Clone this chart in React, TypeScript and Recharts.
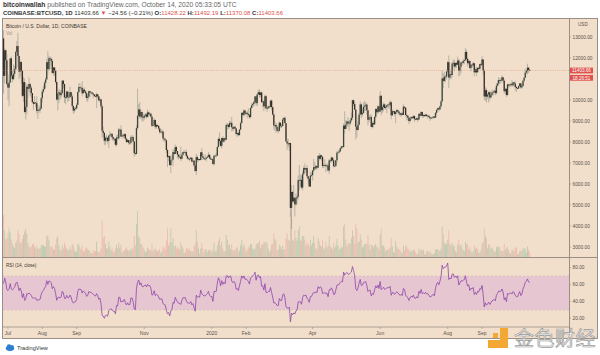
import React from 'react';
import { ComposedChart, BarChart, Bar, Line, XAxis, YAxis, ReferenceLine, ReferenceArea, Cell } from 'recharts';

// ---------- data (daily, Coinbase BTC/USD, from 2019-06-27) ----------
const startDate = '2019-06-27';
// closes before the first visible candle (used as RSI history)
const warmupCloses = [8550, 8730, 8110, 7680, 7790, 7800, 8000, 7930, 7630, 8000, 7920, 8170, 8230, 8690, 8850, 8980, 9330, 9080, 9280, 9530, 10210, 10670, 10860, 11020, 11750, 12930];

const closes = [
  11150, 12370, 11890, 10760,
  10590, 10830, 11980, 11160, 10990, 11250, 11470, 12290, 12570, 12100, 11350, 11810, 11380, 10200, 10850, 9430, 9670, 10630, 10530, 10760, 10590, 10330, 9900, 9820, 9880, 9850, 9480, 9530, 9520, 9590, 10090,
  10400, 10520, 10820, 10980, 11800, 11470, 11990, 11960, 11860, 11290, 11550, 11390, 10860, 10020, 10310, 10360, 10230, 10330, 10920, 10760, 10130, 10110, 10400, 10140, 10140, 10370, 10170, 9720, 9500, 9590, 9600,
  9770, 10380, 10620, 10590, 10580, 10320, 10490, 10410, 10320, 10100, 10160, 10420, 10360, 10360, 10310, 10260, 10190, 10160, 10270, 10170, 9980, 10030, 9700, 8530, 8430, 8060, 8200, 8200, 8050, 8300,
  8340, 8390, 8230, 8150, 8150, 7870, 8210, 8180, 8590, 8590, 8260, 8310, 8280, 8370, 8160, 8000, 8090, 7960, 7960, 8230, 8230, 8020, 7470, 7430, 8660, 9250, 9550, 9210, 9430, 9180, 9150,
  9250, 9310, 9200, 9410, 9320, 9350, 9210, 8770, 8810, 9050, 8720, 8810, 8760, 8640, 8470, 8490, 8500, 8170, 8120, 8080, 7620, 7280, 7330, 6900, 7130, 7160, 7520, 7430, 7760, 7570,
  7400, 7300, 7300, 7200, 7390, 7520, 7510, 7520, 7340, 7220, 7200, 7190, 7250, 7070, 7110, 6880, 6620, 7280, 7150, 7190, 7140, 7510, 7320, 7250, 7200, 7200, 7250, 7300, 7390, 7220, 7170,
  7180, 6950, 7340, 7350, 7350, 7760, 8150, 8050, 7820, 8190, 8020, 8180, 8110, 8810, 8820, 8720, 8900, 8910, 8700, 8630, 8720, 8650, 8380, 8430, 8330, 8590, 8900, 9390, 9290, 9500, 9350,
  9390, 9340, 9290, 9180, 9620, 9750, 9810, 9910, 10170, 9850, 10270, 10370, 10240, 10360, 9900, 9930, 9700, 10180, 9600, 9610, 9690, 9670, 9970, 9660, 9310, 8790, 8810, 8710, 8540,
  8530, 8920, 8760, 8760, 9070, 9150, 8900, 8030, 7930, 7890, 7950, 4860, 5620, 5170, 5350, 5030, 5320, 5390, 6190, 6200, 6190, 5830, 6480, 6760, 6690, 6760, 6370, 6250, 5880, 6400, 6420,
  6640, 6800, 6740, 6860, 6780, 7340, 7200, 7370, 7300, 6860, 6890, 6910, 6860, 6880, 6640, 7120, 7100, 7260, 7130, 6850, 6860, 7130, 7490, 7510, 7550, 7700, 7790, 7760, 8780, 8620,
  8830, 8980, 8900, 8890, 9030, 9150, 9990, 9810, 9540, 8730, 8570, 8820, 9310, 9790, 9320, 9380, 9680, 9730, 9780, 9510, 9060, 9170, 9180, 8720, 8900, 8840, 9200, 9570, 9420, 9700, 9450,
  10200, 9520, 9670, 9790, 9620, 9670, 9750, 9780, 9770, 9890, 9270, 9470, 9470, 9340, 9430, 9520, 9450, 9380, 9300, 9360, 9290, 9680, 9630, 9290, 9250, 9160, 9000, 9120, 9190, 9140,
  9230, 9090, 9060, 9130, 9070, 9340, 9250, 9430, 9240, 9290, 9240, 9300, 9240, 9250, 9190, 9130, 9150, 9170, 9210, 9160, 9390, 9540, 9610, 9550, 9700, 9930, 11030, 10910, 11110, 11110, 11350,
  11800, 11070, 11230, 11190, 11740, 11770, 11600, 11760, 11680, 11880, 11390, 11580, 11790, 11770, 11860, 11900, 12290, 11960, 11750, 11860, 11520, 11680, 11650, 11750, 11320, 11460, 11320, 11530, 11480, 11710, 11660,
  11930, 11390, 10170, 10470, 10160, 10260, 10370, 10120, 10230, 10350, 10400, 10440, 10330, 10680, 10790, 10950, 10940, 10930, 11080, 10920, 10420, 10530, 10240, 10740, 10690, 10730, 10770, 10700, 10840, 10780,
  10620, 10570, 10550, 10670, 10790, 10600, 10670, 10920, 11060, 11300, 11380, 11540, 11430, 11403.66,
];

const highs = [
  13320, 12470, 12400, 12190,
  11200, 10930, 12000, 12080, 11440, 11700, 11620, 12350, 12810, 13200, 12110, 11900, 11840, 11450, 11080, 11030, 9990, 10770, 10750, 11070, 10820, 10660, 10340, 9930, 10190, 9900, 10180, 9600, 9710, 9750, 10120,
  10500, 10670, 10900, 11080, 11950, 12320, 12100, 12060, 12040, 11960, 11580, 11550, 11450, 10880, 10450, 10540, 10480, 10470, 10950, 10950, 10780, 10250, 10440, 10420, 10320, 10640, 10380, 10270, 9720, 9660, 9690,
  9850, 10420, 10790, 10800, 10650, 10900, 10550, 10600, 10480, 10380, 10240, 10450, 10440, 10390, 10390, 10350, 10270, 10280, 10350, 10290, 10200, 10100, 10040, 9790, 8730, 8480, 8270, 8330, 8220, 8330,
  8510, 8400, 8400, 8250, 8200, 8180, 8320, 8350, 8680, 8640, 8800, 8420, 8390, 8410, 8420, 8170, 8130, 8110, 8100, 8300, 8330, 8310, 8040, 7500, 8800, 10540, 9800, 9900, 9540, 9440, 9370,
  9280, 9380, 9370, 9550, 9450, 9440, 9370, 9250, 8860, 9140, 9060, 8870, 8830, 8800, 8700, 8530, 8620, 8510, 8200, 8200, 8130, 7680, 7350, 7360, 7350, 7340, 7660, 7620, 7880, 7820,
  7570, 7420, 7420, 7780, 7490, 7560, 7630, 7570, 7640, 7400, 7270, 7260, 7300, 7270, 7200, 7140, 6940, 7440, 7370, 7220, 7190, 7520, 7700, 7440, 7270, 7430, 7270, 7360, 7520, 7420, 7320,
  7250, 7210, 7400, 7390, 7500, 7800, 8220, 8460, 8060, 8200, 8280, 8200, 8200, 8880, 8900, 8850, 9010, 9000, 9200, 8730, 8760, 8790, 8660, 8500, 8440, 8600, 8970, 9400, 9430, 9560, 9520,
  9440, 9470, 9600, 9340, 9680, 9860, 9870, 9950, 10180, 10190, 10300, 10480, 10520, 10390, 10400, 10050, 9960, 10250, 10240, 9700, 9730, 9700, 9990, 10030, 9670, 9380, 8980, 8900, 8800,
  8750, 8980, 8920, 8840, 9150, 9170, 9220, 8900, 8180, 8150, 7980, 7960, 5950, 5680, 5950, 5370, 5560, 5450, 6400, 6900, 6450, 6400, 6620, 6850, 6980, 6790, 6900, 6300, 6260, 6600, 6530,
  6680, 7200, 7040, 6900, 6880, 7370, 7470, 7420, 7370, 7310, 6940, 7180, 6910, 6990, 6940, 7200, 7160, 7310, 7250, 7220, 6950, 7150, 7560, 7600, 7620, 7720, 7800, 7790, 8880, 9460,
  9050, 9010, 9190, 8950, 9100, 9400, 9990, 10040, 9920, 9580, 9170, 8980, 9400, 9940, 9840, 9590, 9880, 9950, 9890, 9840, 9560, 9270, 9310, 9300, 8970, 9010, 9220, 9620, 9610, 9740, 9700,
  10430, 10230, 9690, 9880, 9850, 9730, 9800, 9800, 9880, 9990, 9950, 9560, 9490, 9480, 9490, 9580, 9550, 9480, 9400, 9400, 9420, 9790, 9690, 9670, 9320, 9280, 9200, 9190, 9230, 9200,
  9300, 9270, 9130, 9190, 9140, 9370, 9360, 9460, 9440, 9300, 9300, 9340, 9340, 9280, 9270, 9210, 9190, 9200, 9230, 9220, 9430, 9550, 9640, 9650, 9730, 10000, 11400, 11250, 11340, 11190, 11450,
  11860, 12120, 11480, 11420, 11790, 11920, 11930, 11800, 11810, 12060, 11950, 11610, 11800, 11860, 11970, 11930, 12470, 12390, 12030, 11890, 11880, 11690, 11710, 11820, 11770, 11530, 11590, 11550, 11580, 11720, 11770,
  12080, 11950, 11470, 10630, 10560, 10300, 10410, 10440, 10350, 10500, 10410, 10480, 10580, 10800, 10940, 11090, 11040, 11040, 11180, 11070, 10990, 10580, 10550, 10770, 10770, 10780, 10800, 10950, 10860, 10840,
  10910, 10650, 10600, 10680, 10800, 10800, 10690, 10950, 11100, 11490, 11430, 11730, 11560, 11492.19,
];

const lows = [
  10300, 10800, 11300, 10700,
  9980, 9700, 10820, 11050, 10830, 10980, 11100, 11400, 12110, 11570, 11000, 11100, 10800, 10140, 9900, 9370, 9070, 9300, 10100, 10380, 10200, 10100, 9850, 9530, 9800, 9660, 9350, 9100, 9400, 9390, 9580,
  9870, 10330, 10500, 10570, 11000, 11220, 11400, 11470, 11660, 11240, 11150, 11170, 10780, 9970, 9500, 9850, 10000, 10100, 10250, 10570, 9860, 9790, 10040, 9900, 9950, 10120, 10080, 9620, 9340, 9400, 9500,
  9550, 9760, 10320, 10430, 10450, 10170, 10300, 10330, 10100, 9960, 9900, 10050, 10150, 10270, 10250, 10080, 10150, 10120, 9610, 10060, 9940, 9880, 9620, 8200, 8240, 7870, 7850, 8000, 7920, 7720,
  8220, 8220, 8080, 8040, 8050, 7800, 7780, 8120, 8100, 8460, 8220, 8260, 8150, 8200, 8100, 7950, 7970, 7860, 7890, 7880, 8150, 8010, 7300, 7370, 7400, 8600, 9100, 9150, 9080, 8980, 8980,
  9050, 9200, 9100, 9160, 9200, 9240, 9150, 8710, 8740, 8770, 8620, 8640, 8720, 8570, 8380, 8430, 8370, 8070, 8000, 8050, 7480, 6800, 7080, 6880, 6520, 7060, 6850, 7370, 7420, 7470,
  7220, 7160, 7240, 7090, 7170, 7330, 7490, 7400, 7300, 7160, 7130, 7080, 7190, 7030, 7030, 6840, 6560, 6430, 7040, 7060, 7120, 7140, 7260, 7150, 7130, 7160, 7080, 7250, 7280, 7200, 7150,
  7170, 6920, 6870, 7280, 7310, 7350, 7750, 7870, 7760, 7690, 7980, 7970, 8060, 8110, 8580, 8620, 8680, 8800, 8500, 8520, 8560, 8600, 8310, 8240, 8280, 8300, 8580, 8890, 9230, 9210, 9240,
  9300, 9130, 9250, 9110, 9170, 9570, 9720, 9680, 9890, 9740, 9720, 10250, 10100, 10140, 9860, 9650, 9460, 9600, 9560, 9440, 9580, 9590, 9650, 9500, 9260, 8600, 8530, 8430, 8520,
  8420, 8530, 8660, 8660, 8750, 9010, 8880, 8010, 7630, 7740, 7580, 4440, 3860, 5100, 5120, 4450, 4960, 5050, 5260, 5700, 5870, 5770, 5700, 6400, 6520, 6540, 6270, 6030, 5870, 5860, 6340,
  6160, 6580, 6660, 6670, 6680, 6770, 7110, 7160, 7120, 6750, 6780, 6800, 6560, 6790, 6610, 6480, 7000, 7040, 7060, 6790, 6800, 6850, 7020, 7400, 7450, 7510, 7650, 7680, 7740, 8420,
  8620, 8760, 8720, 8530, 8790, 8940, 9040, 9710, 9530, 8120, 8230, 8550, 8800, 9260, 9130, 9220, 9350, 9480, 9480, 9290, 8800, 8940, 9080, 8700, 8640, 8700, 8810, 9110, 9330, 9330, 9420,
  9420, 9270, 9380, 9460, 9580, 9530, 9380, 9640, 9570, 9690, 9080, 9240, 9330, 9250, 8900, 9360, 9340, 9280, 9220, 9200, 9270, 9280, 9560, 9200, 9030, 9040, 8850, 8950, 9030, 9090,
  9120, 8950, 9040, 9050, 8950, 9060, 9210, 9240, 9160, 9150, 9190, 9200, 9200, 9120, 9170, 9000, 9090, 9130, 9100, 9130, 9150, 9300, 9480, 9450, 9540, 9650, 9900, 10560, 10850, 10850, 10980,
  11220, 10580, 10960, 11000, 11080, 11550, 11380, 11530, 11530, 11670, 11130, 11160, 11270, 11660, 11700, 11700, 11840, 11840, 11590, 11680, 11500, 11370, 11520, 11590, 11130, 11280, 11140, 11290, 11430, 11450, 11570,
  11650, 11180, 10000, 9950, 9880, 10040, 9880, 9990, 10100, 10210, 10210, 10310, 10220, 10270, 10640, 10700, 10750, 10820, 10890, 10810, 10300, 10360, 10140, 10200, 10590, 10640, 10620, 10650, 10640, 10680,
  10440, 10380, 10510, 10520, 10630, 10540, 10540, 10620, 10840, 11050, 11250, 11210, 11290, 11370.08,
];

// volume, thousand BTC
const volumes = [
  44, 28, 18, 20,
  25, 30, 26, 18, 14, 11, 9, 15, 17, 28, 24, 15, 15, 19, 23, 27, 30, 25, 15, 11, 10, 11, 14, 14, 11, 9, 12, 9, 9, 9, 12,
  13, 12, 11, 11, 22, 23, 18, 11, 10, 11, 8, 8, 13, 20, 22, 12, 8, 7, 12, 9, 15, 12, 9, 8, 7, 11, 8, 14, 12, 7, 5,
  6, 14, 13, 10, 8, 12, 6, 6, 9, 10, 8, 7, 6, 4, 4, 7, 6, 6, 16, 6, 5, 5, 9, 38, 20, 22, 14, 9, 9, 16,
  11, 7, 9, 6, 5, 9, 13, 9, 15, 10, 13, 5, 6, 7, 9, 10, 7, 7, 6, 9, 8, 10, 22, 12, 35, 48, 22, 20, 14, 13, 10,
  8, 5, 6, 10, 9, 7, 7, 14, 6, 8, 10, 7, 6, 7, 9, 4, 6, 11, 10, 8, 17, 30, 12, 15, 30, 15, 20, 11, 12, 9,
  11, 9, 8, 16, 12, 9, 5, 5, 9, 9, 7, 9, 6, 6, 5, 11, 14, 28, 16, 9, 4, 9, 15, 9, 5, 8, 8, 5, 7, 8, 7,
  5, 8, 15, 6, 6, 12, 17, 20, 12, 16, 9, 6, 6, 23, 18, 12, 13, 8, 13, 7, 7, 7, 10, 10, 5, 7, 12, 18, 11, 13, 10,
  5, 8, 11, 10, 14, 13, 9, 8, 9, 13, 14, 15, 17, 9, 13, 13, 16, 15, 16, 14, 9, 5, 7, 13, 14, 25, 19, 17, 7,
  8, 13, 11, 8, 12, 8, 8, 20, 25, 18, 17, 46, 42, 18, 17, 28, 20, 17, 28, 32, 18, 17, 22, 22, 18, 12, 15, 14, 11, 18, 12,
  15, 22, 15, 9, 8, 20, 16, 12, 11, 18, 8, 10, 16, 10, 12, 22, 11, 10, 8, 15, 10, 12, 19, 12, 8, 9, 11, 10, 32, 35,
  18, 11, 14, 15, 14, 20, 28, 22, 14, 35, 30, 15, 16, 24, 18, 10, 11, 14, 13, 14, 23, 13, 8, 13, 12, 10, 12, 14, 11, 10, 8,
  24, 30, 12, 12, 10, 6, 8, 7, 9, 10, 20, 11, 5, 5, 17, 11, 9, 8, 8, 5, 4, 12, 7, 12, 11, 9, 8, 5, 7, 6,
  7, 8, 5, 3, 4, 9, 6, 8, 8, 7, 3, 3, 6, 6, 5, 6, 4, 3, 3, 4, 8, 8, 8, 7, 6, 9, 32, 24, 15, 13, 14,
  18, 28, 14, 12, 15, 12, 11, 6, 5, 13, 18, 12, 13, 10, 7, 6, 16, 14, 13, 8, 10, 6, 4, 6, 12, 9, 10, 8, 4, 5, 7,
  14, 16, 30, 22, 20, 9, 13, 13, 9, 10, 8, 5, 6, 11, 10, 11, 10, 7, 6, 6, 14, 8, 10, 10, 7, 4, 4, 8, 7, 6,
  10, 10, 3, 3, 6, 7, 6, 9, 9, 9, 5, 11, 8, 5,
];

const tickDates = ['2019-07-01', '2019-08-01', '2019-09-01', '2019-11-01', '2020-01-01', '2020-02-01', '2020-04-01', '2020-06-01', '2020-08-01', '2020-09-01'];
const tickLabels = ['Jul', 'Aug', 'Sep', 'Nov', '2020', 'Feb', 'Apr', 'Jun', 'Aug', 'Sep'];
// 11000 is hidden behind the last-price tag in the reference
const priceTicks = [3000, 4000, 5000, 6000, 7000, 8000, 9000, 10000, 12000, 13000];
const rsiTicks = [20, 40, 60, 80];
const lastClose = 11403.66;
const emptyDaysAfter = 35; // blank space right of the last candle

// ---------- derived table ----------
const DAY = 86400000;
const parse = (s: string) => { const [y, m, d] = s.split('-').map(Number); return Date.UTC(y, m - 1, d); };
const t0 = parse(startDate);
const tickIdx = tickDates.map((s) => Math.round((parse(s) - t0) / DAY));
const labelByIdx = new Map<number, string>(tickIdx.map((k, j) => [k, tickLabels[j]]));

function rsiOf(c: number[], n: number) {
  const out: (number | null)[] = new Array(c.length).fill(null);
  let ag = 0, al = 0;
  for (let k = 1; k < c.length; k++) {
    const ch = c[k] - c[k - 1];
    const g = Math.max(ch, 0), l = Math.max(-ch, 0);
    if (k <= n) { ag += g / n; al += l / n; if (k === n) out[k] = al === 0 ? 100 : 100 - 100 / (1 + ag / al); }
    else { ag = (ag * (n - 1) + g) / n; al = (al * (n - 1) + l) / n; out[k] = al === 0 ? 100 : 100 - 100 / (1 + ag / al); }
  }
  return out;
}
const rsiAll = rsiOf([...warmupCloses, ...closes], 14);

const rows: any[] = [];
for (let i = 0; i < closes.length + emptyDaysAfter; i++) {
  if (i < closes.length) {
    const open = i === 0 ? warmupCloses[warmupCloses.length - 1] : closes[i - 1];
    const close = closes[i];
    const high = Math.max(highs[i], open, close);
    const low = Math.min(lows[i], open, close);
    rows.push({ i, open, close, high, low, range: [low, high], vol: volumes[i], up: close >= open, rsi: rsiAll[warmupCloses.length + i] });
  } else {
    rows.push({ i });
  }
}

// ---------- styles ----------
const BG = '#f2dfcb';
const BORDER = '#9b8f85';
const AXIS_TEXT = '#5a524b';
const UP = '#38453a';
const DOWN = '#3b2b25';
const WICK = '#8d958a';
const VOL_UP = 'rgba(120,175,140,0.45)';
const VOL_DOWN = 'rgba(225,135,130,0.42)';
const BAND = '#e6c6d0';
const RSI_LINE = '#8d45ab';
const RED = '#e0504c';
const FONT = "'Liberation Sans', Arial, sans-serif";

const Candle = (props: any) => {
  const { x, y, width, height, payload } = props;
  if (!payload || payload.high == null || !(height > 0)) return null;
  const { open, close, high, low } = payload;
  const k = height / (high - low);
  const cx = x + width / 2;
  const yO = y + (high - open) * k;
  const yC = y + (high - close) * k;
  const top = Math.min(yO, yC);
  const h = Math.max(Math.abs(yC - yO), 0.7);
  return (
    <g>
      <line x1={cx} x2={cx} y1={y} y2={y + height} stroke={WICK} strokeWidth={0.6} />
      <rect x={cx - 0.65} y={top} width={1.3} height={h} fill={payload.up ? UP : DOWN} />
    </g>
  );
};

const PriceTag = (props: any) => {
  const vb = props.viewBox || {};
  const x = (vb.x || 0) + (vb.width || 0) + 1;
  const y = vb.y || 0;
  return (
    <g>
      <rect x={x} y={y - 2.9} width={23} height={5.8} fill={RED} />
      <text x={x + 11.5} y={y + 1.7} textAnchor="middle" fontSize={4.6} fill="#fff" fontFamily={FONT}>11403.66</text>
      <rect x={x} y={y + 4.4} width={23} height={5.8} fill={RED} />
      <text x={x + 11.5} y={y + 9} textAnchor="middle" fontSize={4.6} fill="#fff" fontFamily={FONT}>18:26:51</text>
    </g>
  );
};

const DateTick = (p: any) => {
  const lab = labelByIdx.get(p.payload?.value);
  if (!lab) return null;
  return (
    <g>
      <line x1={p.x} x2={p.x} y1={p.y - 2} y2={p.y} stroke={BORDER} strokeWidth={0.6} />
      <text x={p.x} y={p.y + 5.6} textAnchor="middle" fontSize={5} fill={AXIS_TEXT} fontFamily={FONT}>{lab}</text>
    </g>
  );
};

const abs = (l: number, t: number, extra: any = {}) => ({ position: 'absolute' as const, left: l, top: t, ...extra });
const txt = (l: number, cy: number, size: number, extra: any = {}) => ({
  position: 'absolute' as const, left: l, top: cy - size * 0.6, fontSize: size, lineHeight: `${size * 1.2}px`, whiteSpace: 'nowrap' as const, fontFamily: FONT, ...extra,
});

export default function App() {
  const CW = 594;
  return (
    <div style={{ position: 'absolute', left: 0, top: 0, width: 600, height: 355, background: '#fff', overflow: 'hidden', fontFamily: FONT }}>
      {/* header */}
      <div style={txt(3, 5, 6.7, { color: '#666' })}>
        <b style={{ color: '#333' }}>bitcoinwallah</b> published on TradingView.com, October 14, 2020 05:33:05 UTC
      </div>
      <div style={txt(3, 13.7, 6, { color: '#333' })}>
        <b>COINBASE:BTCUSD, 1D</b> 11403.66 <span style={{ color: RED }}>▼</span> −24.56 (−0.21%) <b>O:</b><span style={{ color: RED }}>11428.22</span> <b>H:</b><span style={{ color: RED }}>11492.19</span> <b>L:</b><span style={{ color: RED }}>11370.08</span> <b>C:</b><span style={{ color: RED }}>11403.66</span>
      </div>

      {/* panel */}
      <div style={abs(2, 18, { width: 596, height: 321, boxSizing: 'border-box', border: `1px solid ${BORDER}`, background: BG })} />
      <div style={abs(569, 19, { width: 0.8, height: 319, background: BORDER })} />
      <div style={abs(3, 257, { width: 594, height: 0.8, background: BORDER })} />

      {/* volume */}
      <div style={abs(3, 19)}>
        <BarChart width={CW} height={238} data={rows} margin={{ top: 0, right: 28, bottom: 0, left: 0 }} barCategoryGap="12%">
          <XAxis dataKey="i" hide />
          <YAxis hide domain={[0, 250]} />
          <Bar dataKey="vol" isAnimationActive={false}>
            {rows.map((r) => <Cell key={r.i} fill={r.up ? VOL_UP : VOL_DOWN} />)}
          </Bar>
        </BarChart>
      </div>

      {/* price */}
      <div style={abs(3, 19)}>
        <ComposedChart width={CW} height={238} data={rows} margin={{ top: 0, right: 0, bottom: 0, left: 0 }}>
          <XAxis dataKey="i" hide />
          <YAxis orientation="right" width={28} domain={[2524, 13857]} allowDataOverflow ticks={priceTicks} interval={0}
            tickFormatter={(v: number) => v.toFixed(2)} tick={{ fontSize: 4.8, fill: AXIS_TEXT, fontFamily: FONT }}
            tickSize={2} tickMargin={1.5} tickLine={{ stroke: BORDER, strokeWidth: 0.6 }} axisLine={false} />
          <ReferenceLine y={lastClose} stroke="#d79a80" strokeWidth={0.6} strokeDasharray="1 1.2" label={(p: any) => <PriceTag {...p} />} />
          <Bar dataKey={(d: any) => d.range} shape={Candle} isAnimationActive={false} />
        </ComposedChart>
      </div>

      {/* rsi */}
      <div style={abs(3, 257)}>
        <ComposedChart width={CW} height={81} data={rows} margin={{ top: 0, right: 0, bottom: 0, left: 0 }}>
          <XAxis dataKey="i" scale="band" interval={0} height={11} tickSize={2} tickMargin={0} tickLine={false}
            axisLine={{ stroke: BORDER, strokeWidth: 0.8 }} tick={(p: any) => <DateTick {...p} />} />
          <YAxis orientation="right" width={28} domain={[9.66, 92.7]} allowDataOverflow ticks={rsiTicks} interval={0}
            tickFormatter={(v: number) => v.toFixed(2)} tick={{ fontSize: 4.8, fill: AXIS_TEXT, fontFamily: FONT }}
            tickSize={2} tickMargin={1.5} tickLine={{ stroke: BORDER, strokeWidth: 0.6 }} axisLine={false} />
          <ReferenceArea y1={30} y2={70} fill={BAND} fillOpacity={1} stroke="none" />
          <ReferenceLine y={70} stroke="#bfa3ad" strokeWidth={0.5} strokeDasharray="2 2" />
          <ReferenceLine y={30} stroke="#bfa3ad" strokeWidth={0.5} strokeDasharray="2 2" />
          <Line dataKey="rsi" stroke={RSI_LINE} strokeWidth={0.8} dot={false} isAnimationActive={false} />
        </ComposedChart>
      </div>

      {/* pane labels */}
      <div style={txt(6, 26, 5, { color: '#3b342f' })}>Bitcoin / U.S. Dollar, 1D, COINBASE</div>
      <div style={txt(6, 34, 4.6, { color: '#a09283' })}>Vol</div>
      <div style={txt(6, 265.5, 4.6, { color: '#3b342f' })}>RSI (14, close)</div>
      <div style={txt(578, 25, 4.6, { color: AXIS_TEXT })}>USD</div>

      {/* footer + watermark */}
      <svg width={600} height={355} style={{ position: 'absolute', left: 0, top: 0, pointerEvents: 'none' }}>
        <g fill="#2f7fd0">
          <ellipse cx={10} cy={348.5} rx={4.2} ry={2.4} />
          <circle cx={9} cy={346.5} r={2.2} />
          <circle cx={12} cy={346.8} r={1.8} />
        </g>
        <text x={17} y={349.5} fontSize={5.6} fill="#333" fontFamily={FONT}>TradingView</text>
        <g fill="#f2a833">
          <rect x={500} y={328} width={8} height={20} />
          <rect x={488} y={340} width={20} height={8} />
          <rect x={493} y={333} width={5} height={5} />
        </g>
        <text x={514} y={345.5} fontSize={20} fill="#eeeeee" stroke="#9c9c9c" strokeWidth={0.7}
          fontFamily="'Noto Sans CJK SC', sans-serif" letterSpacing={0.5}>金色财经</text>
      </svg>
    </div>
  );
}
